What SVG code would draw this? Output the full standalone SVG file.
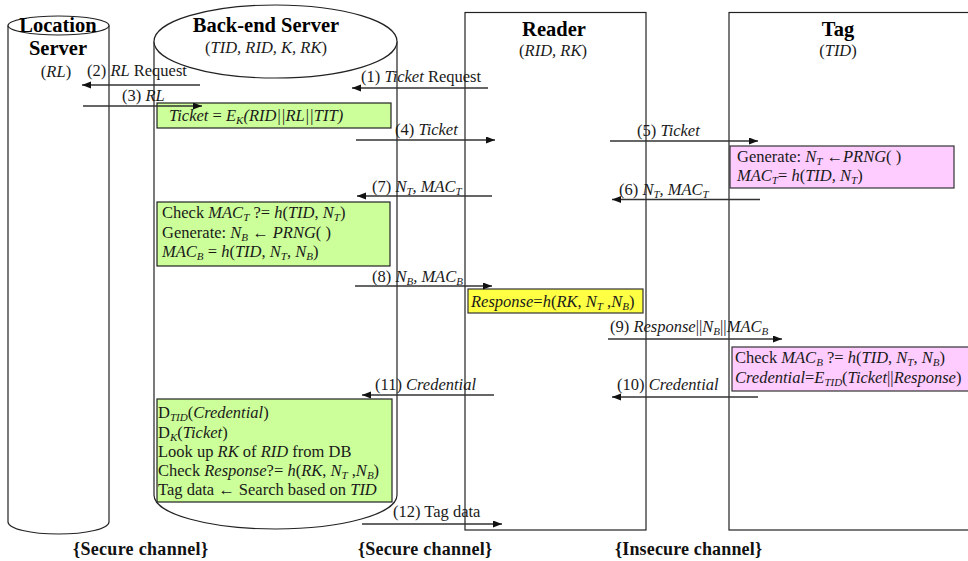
<svg xmlns="http://www.w3.org/2000/svg" width="968" height="561" viewBox="0 0 968 561">
<style>
text{font-family:'Liberation Serif','DejaVu Serif','Times New Roman',serif;fill:#1a1a1a;font-size:16.5px}
.t{font-weight:bold;font-size:20.5px;text-anchor:middle;fill:#000}
.c{font-weight:bold;font-size:18px;fill:#111}
.i{font-style:italic}
.s{font-size:11px;font-style:italic}
.ln{stroke:#333;stroke-width:1.3;fill:none}
.sh{stroke:#222;stroke-width:1.2;fill:#fff}
.g{fill:#ccff99;stroke:#222;stroke-width:1.2}
.p{fill:#ffccff;stroke:#333;stroke-width:1.2}
.y{fill:#ffff44;stroke:#333;stroke-width:1.2}
</style>
<defs>
<marker id="ah" markerUnits="userSpaceOnUse" markerWidth="10" markerHeight="8" refX="9" refY="3.5" orient="auto">
<path d="M0,0 L9,3.5 L0,7 z" fill="#111"/>
</marker>
</defs>
<rect width="968" height="561" fill="#fff"/>

<g id="location-server">
<path class="sh" d="M8,25.5 L8,522 A50.5,12 0 0 0 109,522 L109,25.5"/>
<ellipse class="sh" cx="58.5" cy="25.5" rx="50.5" ry="9.5"/>
<text class="t" x="58" y="32">Location</text>
<text class="t" x="58" y="55">Server</text>
<text x="56" y="77" text-anchor="middle">(<tspan class="i">RL</tspan>)</text>
</g>

<g id="backend-server">
<path class="sh" d="M154,41.5 L154,495 A121.5,34 0 0 0 397,495 L397,41.5"/>
<ellipse class="sh" cx="275.5" cy="41.5" rx="121.5" ry="36.5"/>
<text class="t" x="266" y="32">Back-end Server</text>
<text x="266" y="53" text-anchor="middle">(<tspan class="i">TID, RID, K, RK</tspan>)</text>
</g>

<g id="reader">
<rect class="sh" x="465" y="12.5" width="181" height="517.5"/>
<text class="t" x="554" y="36">Reader</text>
<text x="553" y="56" text-anchor="middle">(<tspan class="i">RID, RK</tspan>)</text>
</g>

<g id="tag">
<rect class="sh" x="729" y="12.5" width="260" height="517.5"/>
<text class="t" x="838" y="36">Tag</text>
<text x="838" y="56" text-anchor="middle">(<tspan class="i">TID</tspan>)</text>
</g>

<g id="ticket-box">
<rect class="g" x="157" y="103" width="234" height="25"/>
<text x="169" y="121"><tspan class="i">Ticket</tspan> = <tspan class="i">E</tspan><tspan class="s" dy="3">K</tspan><tspan class="i" dy="-3">(RID||RL||TIT)</tspan></text>
</g>

<g id="tag-generate">
<rect class="p" x="730" y="146" width="224" height="42"/>
<text x="737" y="162">Generate: <tspan class="i">N</tspan><tspan class="s" dy="2.5">T</tspan><tspan dy="-2.5"> ←</tspan><tspan class="i">PRNG</tspan>(  )</text>
<text x="737" y="181"><tspan class="i">MAC</tspan><tspan class="s" dy="3">T</tspan><tspan dy="-3">= </tspan><tspan class="i">h</tspan>(<tspan class="i">TID, N</tspan><tspan class="s" dy="3">T</tspan><tspan dy="-3">)</tspan></text>
</g>

<g id="backend-check">
<rect class="g" x="157" y="202" width="233" height="64"/>
<text x="162" y="218">Check <tspan class="i">MAC</tspan><tspan class="s" dy="3">T</tspan><tspan dy="-3"> ?= </tspan><tspan class="i">h</tspan>(<tspan class="i">TID</tspan>, <tspan class="i">N</tspan><tspan class="s" dy="3">T</tspan><tspan dy="-3">)</tspan></text>
<text x="162" y="238">Generate:  <tspan class="i">N</tspan><tspan class="s" dy="3">B</tspan><tspan dy="-3"> ← </tspan><tspan class="i">PRNG</tspan>(  )</text>
<text x="162" y="257"><tspan class="i">MAC</tspan><tspan class="s" dy="3">B</tspan><tspan dy="-3"> = </tspan><tspan class="i">h</tspan>(<tspan class="i">TID</tspan>, <tspan class="i">N</tspan><tspan class="s" dy="3">T</tspan><tspan dy="-3">, </tspan><tspan class="i">N</tspan><tspan class="s" dy="3">B</tspan><tspan dy="-3">)</tspan></text>
</g>

<g id="reader-response">
<rect class="y" x="468" y="289" width="175" height="24"/>
<text x="471" y="307"><tspan class="i">Response</tspan>=<tspan class="i">h</tspan>(<tspan class="i">RK</tspan>, <tspan class="i">N</tspan><tspan class="s" dy="3">T</tspan><tspan dy="-3"> ,</tspan><tspan class="i">N</tspan><tspan class="s" dy="3">B</tspan><tspan dy="-3">)</tspan></text>
</g>

<g id="tag-check">
<rect class="p" x="732" y="347" width="245" height="44"/>
<text x="735" y="363">Check <tspan class="i">MAC</tspan><tspan class="s" dy="3">B</tspan><tspan dy="-3"> ?= </tspan><tspan class="i">h</tspan>(<tspan class="i">TID</tspan>, <tspan class="i">N</tspan><tspan class="s" dy="3">T</tspan><tspan dy="-3">, </tspan><tspan class="i">N</tspan><tspan class="s" dy="3">B</tspan><tspan dy="-3">)</tspan></text>
<text x="735" y="383"><tspan class="i">Credential</tspan>=<tspan class="i">E</tspan><tspan class="s" dy="3">TID</tspan><tspan dy="-3">(</tspan><tspan class="i">Ticket</tspan>||<tspan class="i">Response</tspan>)</text>
</g>

<g id="backend-verify">
<rect class="g" x="157" y="399" width="235" height="103"/>
<text x="158" y="418">D<tspan class="s" dy="3">TID</tspan><tspan dy="-3">(</tspan><tspan class="i">Credential</tspan>)</text>
<text x="158" y="438">D<tspan class="s" dy="3">K</tspan><tspan dy="-3">(</tspan><tspan class="i">Ticket</tspan>)</text>
<text x="158" y="457">Look up <tspan class="i">RK</tspan> of <tspan class="i">RID</tspan> from DB</text>
<text x="158" y="476">Check <tspan class="i">Response</tspan>?= <tspan class="i">h</tspan>(<tspan class="i">RK</tspan>, <tspan class="i">N</tspan><tspan class="s" dy="3">T</tspan><tspan dy="-3"> ,</tspan><tspan class="i">N</tspan><tspan class="s" dy="3">B</tspan><tspan dy="-3">)</tspan></text>
<text x="158" y="495">Tag data ← Search based on <tspan class="i">TID</tspan></text>
</g>

<g id="connectors">
<line class="ln" x1="488" y1="88" x2="352" y2="88" marker-end="url(#ah)"/>
<text x="361" y="82">(1) <tspan class="i">Ticket</tspan> Request</text>
<line class="ln" x1="200" y1="85" x2="82" y2="85" marker-end="url(#ah)"/>
<text x="87" y="76">(2) <tspan class="i">RL</tspan> Request</text>
<line class="ln" x1="83" y1="106" x2="202" y2="106" marker-end="url(#ah)"/>
<text x="122" y="101">(3) <tspan class="i">RL</tspan></text>
<line class="ln" x1="356" y1="140" x2="495" y2="140" marker-end="url(#ah)"/>
<text x="395" y="135">(4) <tspan class="i">Ticket</tspan></text>
<line class="ln" x1="610" y1="141" x2="758" y2="141" marker-end="url(#ah)"/>
<text x="637" y="136">(5) <tspan class="i">Ticket</tspan></text>
<line class="ln" x1="760" y1="199.5" x2="612" y2="199.5" marker-end="url(#ah)"/>
<text x="619" y="195">(6) <tspan class="i">N</tspan><tspan class="s" dy="3">T</tspan><tspan class="i" dy="-3">, MAC</tspan><tspan class="s" dy="3">T</tspan></text>
<line class="ln" x1="492" y1="196" x2="357" y2="196" marker-end="url(#ah)"/>
<text x="372" y="192">(7) <tspan class="i">N</tspan><tspan class="s" dy="3">T</tspan><tspan class="i" dy="-3">, MAC</tspan><tspan class="s" dy="3">T</tspan></text>
<line class="ln" x1="355" y1="286" x2="492" y2="286" marker-end="url(#ah)"/>
<text x="372" y="282">(8) <tspan class="i">N</tspan><tspan class="s" dy="3">B</tspan><tspan class="i" dy="-3">, MAC</tspan><tspan class="s" dy="3">B</tspan></text>
<line class="ln" x1="608" y1="339" x2="782" y2="339" marker-end="url(#ah)"/>
<text x="610" y="332">(9) <tspan class="i">Response</tspan>||<tspan class="i">N</tspan><tspan class="s" dy="3">B</tspan><tspan dy="-3">||</tspan><tspan class="i">MAC</tspan><tspan class="s" dy="3">B</tspan></text>
<line class="ln" x1="758" y1="397" x2="612" y2="397" marker-end="url(#ah)"/>
<text x="617" y="390">(10) <tspan class="i">Credential</tspan></text>
<line class="ln" x1="494" y1="395" x2="362" y2="395" marker-end="url(#ah)"/>
<text x="375" y="390">(11) <tspan class="i">Credential</tspan></text>
<line class="ln" x1="362" y1="524" x2="502" y2="524" marker-end="url(#ah)"/>
<text x="393" y="517">(12) Tag data</text>
</g>

<g id="channels">
<text class="c" x="73" y="555" textLength="135" lengthAdjust="spacing">{Secure channel}</text>
<text class="c" x="358" y="555" textLength="134" lengthAdjust="spacing">{Secure channel}</text>
<text class="c" x="615" y="555" textLength="147" lengthAdjust="spacing">{Insecure channel}</text>
</g>
</svg>
